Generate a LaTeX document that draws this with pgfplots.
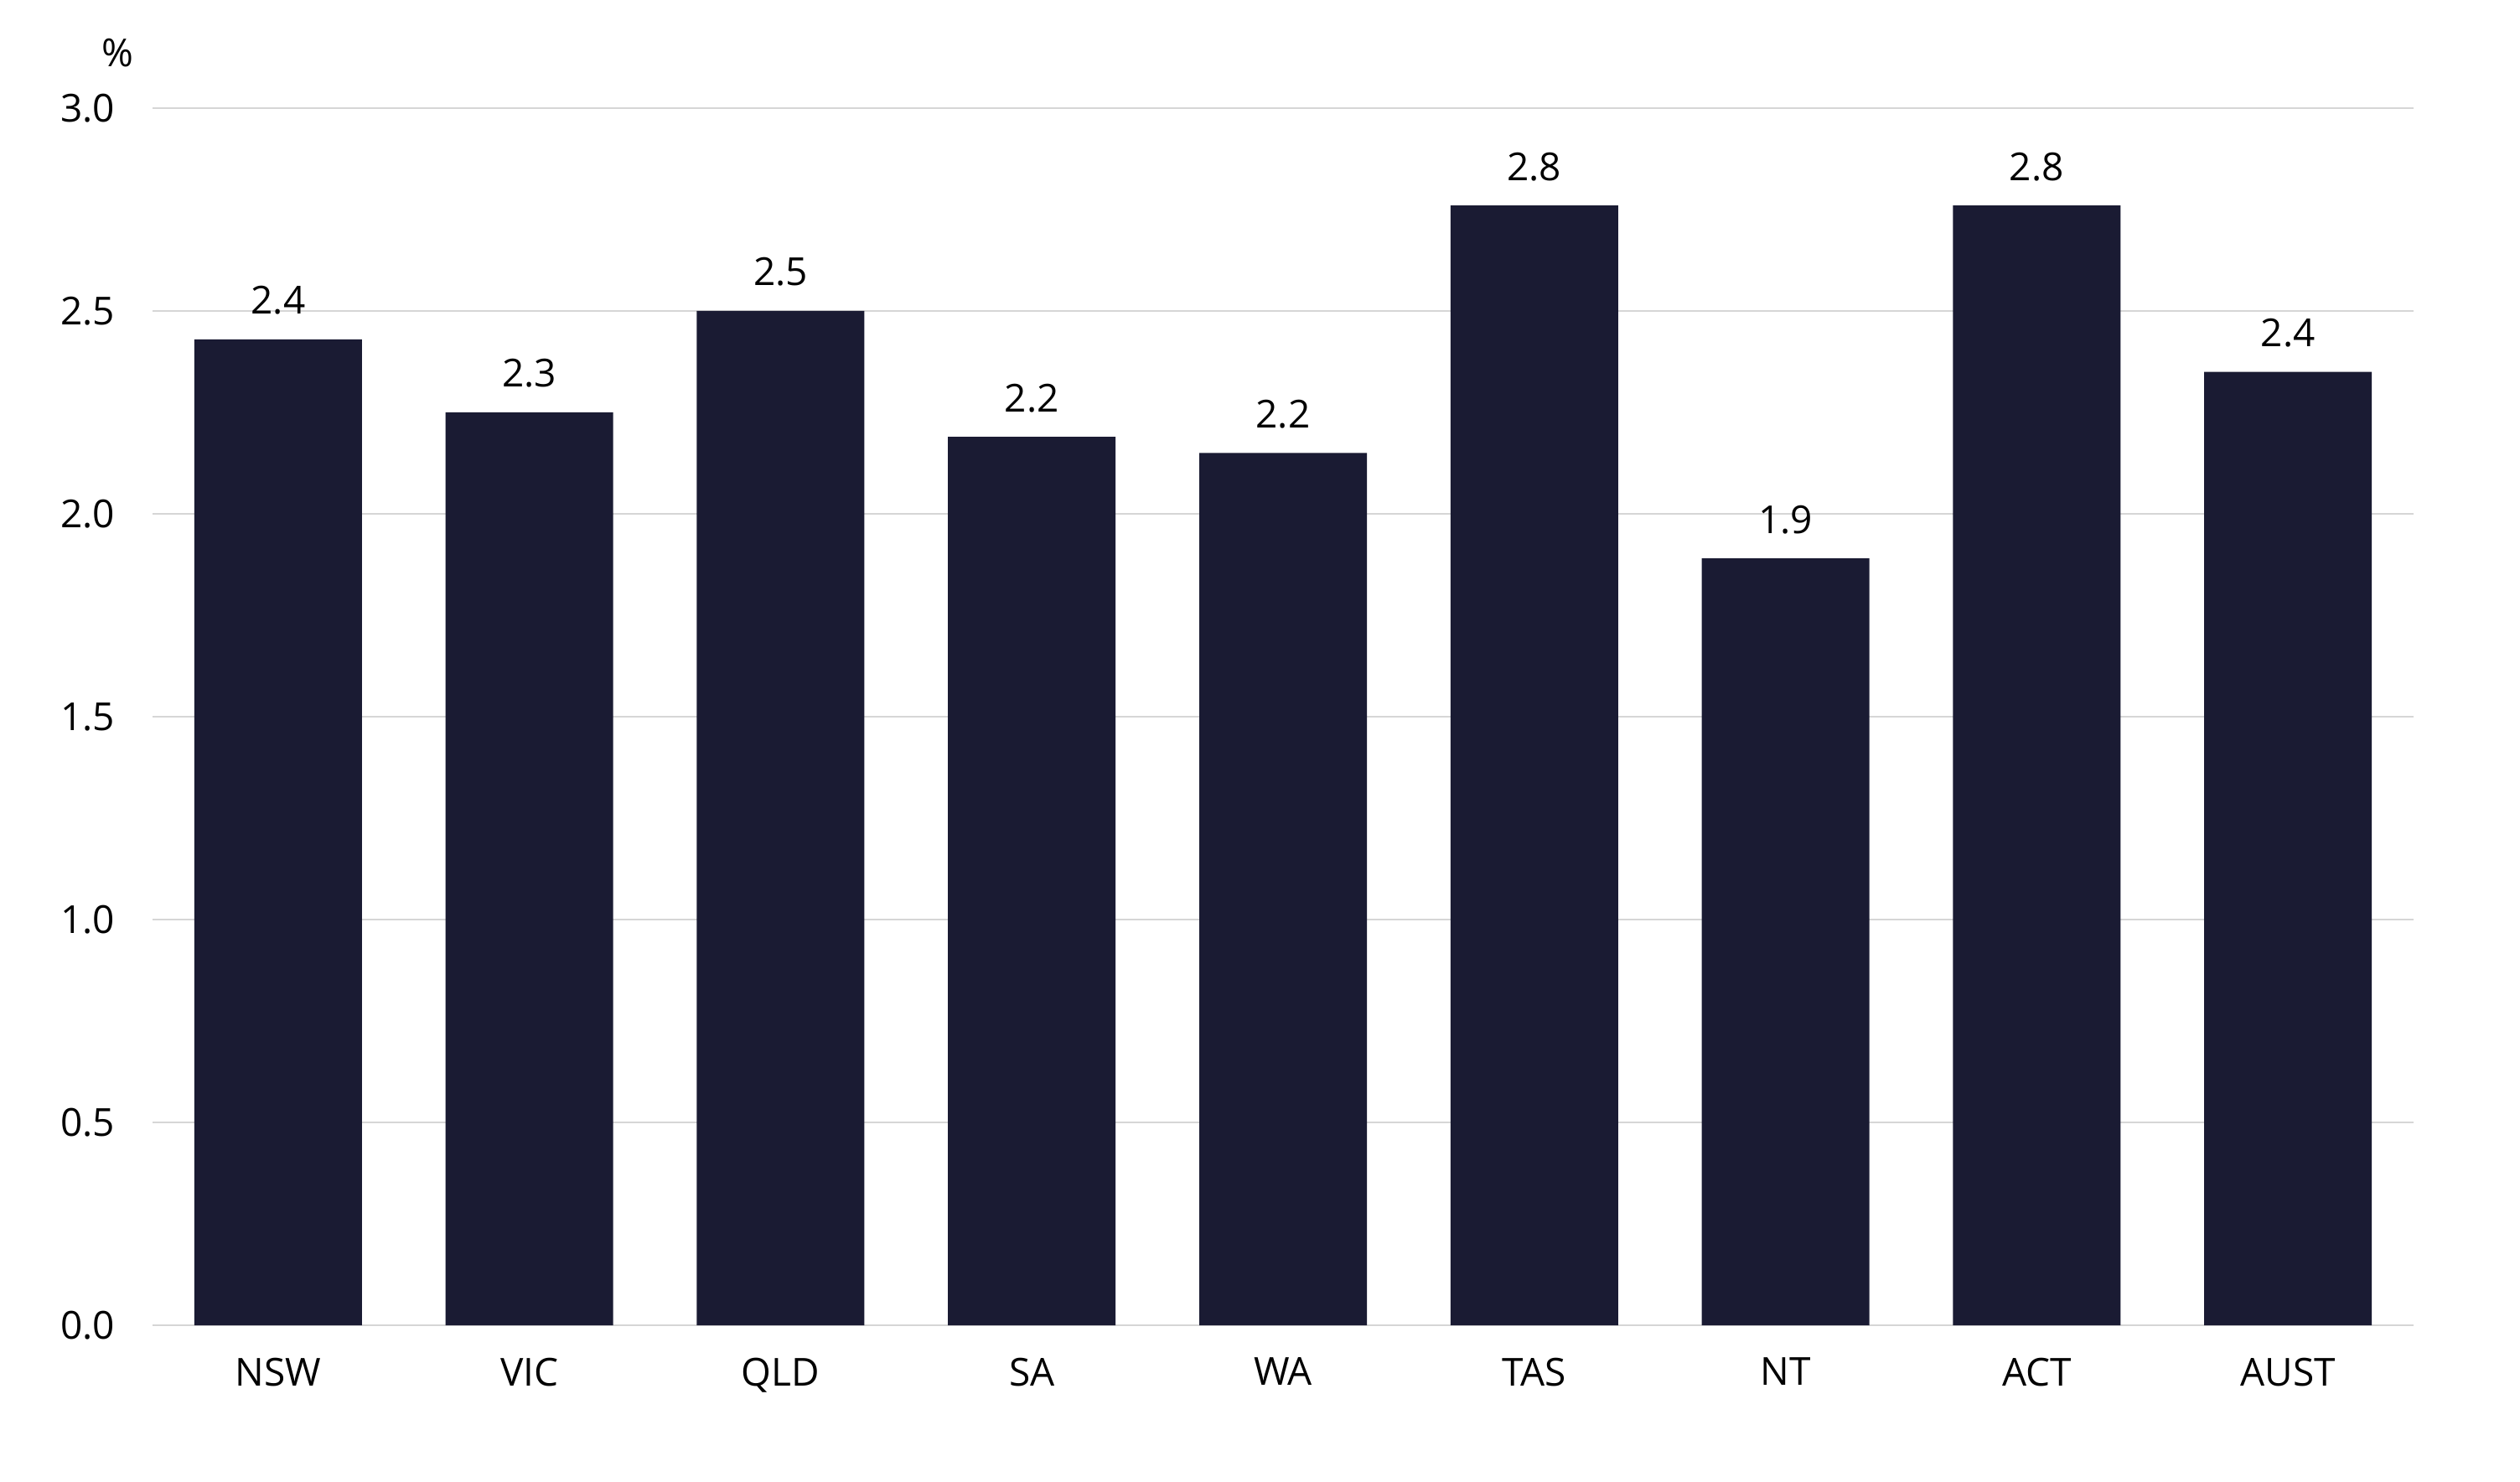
\documentclass[border=0pt]{standalone}
\usepackage{fontspec}
\setmainfont{Open Sans}
\usepackage{pgfplots}
\pgfplotsset{compat=1.18}

\definecolor{barnavy}{RGB}{26,27,51}
\definecolor{gridgrey}{RGB}{214,214,214}

\begin{document}
\fontsize{11.5}{14}\selectfont
\begin{tikzpicture}
% page frame: 3007x1767 px at 0.25pt per px, axis corner at px (182,1581)
\path[use as bounding box] (-45.5pt,-46.5pt) rectangle (706.25pt,395.25pt);
\begin{axis}[
    at={(0,0)}, anchor=south west,
    scale only axis,
    width=674.5pt, height=363pt,
    xmin=-0.5, xmax=8.5,
    ymin=0, ymax=3,
    ytick={0,0.5,1,1.5,2,2.5,3},
    xtick={0,...,8},
    xticklabels={NSW,VIC,QLD,SA,WA,TAS,NT,ACT,AUST},
    axis line style={draw=none},
    major tick length=0pt,
    ymajorgrids=true,
    grid style={gridgrey, line width=0.5pt},
    /pgf/number format/assume math mode=true,
    yticklabel={\pgfmathprintnumber[fixed,fixed zerofill,precision=1]{\tick}},
    yticklabel style={anchor=east, inner sep=0pt, xshift=-11pt},
    xticklabel style={anchor=north, inner sep=0pt, yshift=-9.5pt},
    ybar, bar width=200*0.25pt, bar shift=0pt,
    nodes near coords,
    point meta=explicit symbolic,
    nodes near coords style={anchor=base, inner sep=0pt, yshift=7.5pt, black},
    clip=false,
]
\addplot[fill=barnavy, draw=none] table[meta=lab] {
x y lab
0 2.43 2.4
1 2.25 2.3
2 2.50 2.5
3 2.19 2.2
4 2.15 2.2
5 2.76 2.8
6 1.89 1.9
7 2.76 2.8
8 2.35 2.4
};
\node[anchor=base east, inner sep=0pt] at ([xshift=-5.5pt, yshift=12.25pt]rel axis cs:0,1) {\%};
\end{axis}
\end{tikzpicture}
\end{document}
